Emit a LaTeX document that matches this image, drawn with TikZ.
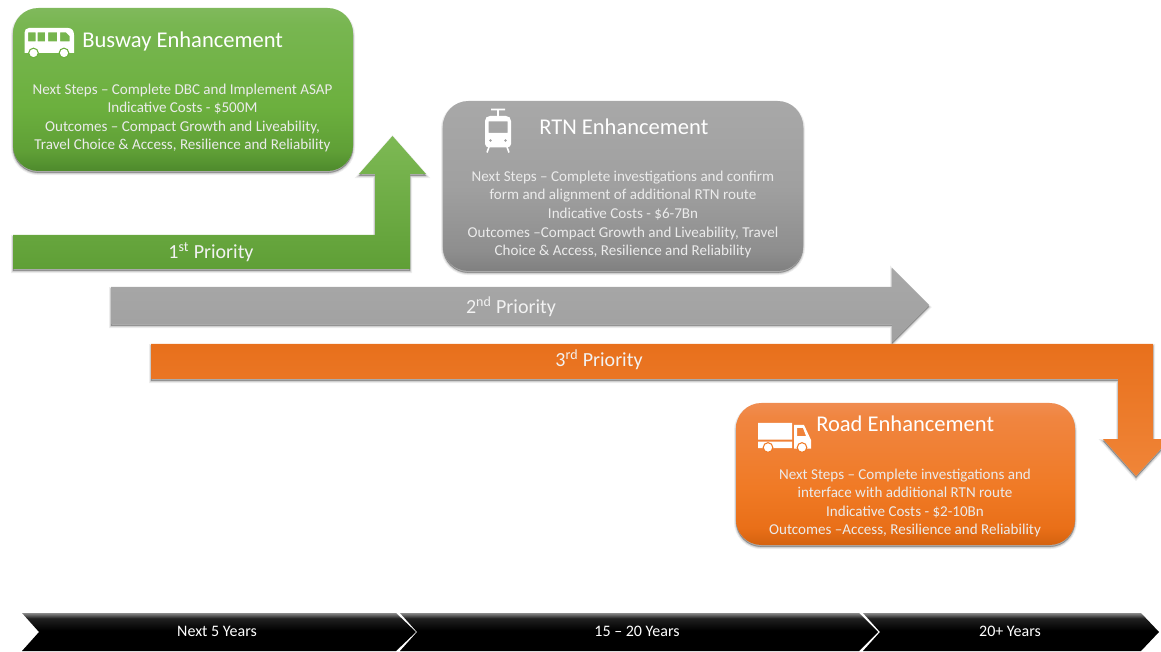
\documentclass[tikz,border=0pt]{standalone}
\usepackage{fontspec}
\setmainfont{Carlito}
\definecolor{HB}{HTML}{4E8A2C}\definecolor{HC}{HTML}{5F9F36}\definecolor{HD}{HTML}{6CB03E}\definecolor{HE}{HTML}{78B651}\definecolor{HF}{HTML}{80B95C}
\pgfdeclareverticalshading{cardG}{100bp}{color(0bp)=(HB);color(25bp)=(HB);color(31bp)=(HC);color(45bp)=(HD);color(70bp)=(HE);color(75bp)=(HF);color(100bp)=(HF)}
\definecolor{YB}{HTML}{808080}\definecolor{YC}{HTML}{8E8E8E}\definecolor{YD}{HTML}{A0A0A0}\definecolor{YF}{HTML}{A8A8A8}
\pgfdeclareverticalshading{cardY}{100bp}{color(0bp)=(YB);color(25bp)=(YB);color(31bp)=(YC);color(50bp)=(YD);color(75bp)=(YF);color(100bp)=(YF)}
\definecolor{OB}{HTML}{D4620F}\definecolor{OC}{HTML}{E96F18}\definecolor{OD}{HTML}{F07A25}\definecolor{OE}{HTML}{F08540}\definecolor{OF}{HTML}{F08C50}
\pgfdeclareverticalshading{cardO}{100bp}{color(0bp)=(OB);color(25bp)=(OB);color(31bp)=(OC);color(45bp)=(OD);color(70bp)=(OE);color(75bp)=(OF);color(100bp)=(OF)}
\definecolor{KM}{HTML}{202020}\definecolor{KT}{HTML}{8A8A8A}
\pgfdeclareverticalshading{chevK}{100bp}{color(0bp)=(black);color(52bp)=(black);color(68bp)=(KM);color(75bp)=(KT);color(100bp)=(KT)}
\definecolor{aT}{HTML}{7DB954}\definecolor{aB}{HTML}{5F9F36}
\definecolor{yT}{HTML}{A8A8A8}\definecolor{yB}{HTML}{A0A0A0}
\definecolor{oT}{HTML}{E8701C}\definecolor{oB}{HTML}{F08538}
\tikzset{
 x=0.75pt,y=-0.75pt,
 softshadow/.style={
  preaction={draw=black,fill=black,opacity=.07,line width=3pt,transform canvas={yshift=-1.6pt}},
  preaction={draw=black,fill=black,opacity=.10,line width=1.5pt,transform canvas={yshift=-1.6pt}},
  preaction={draw=black,fill=black,opacity=.14,line width=.4pt,transform canvas={yshift=-1.2pt}}},
 card/.style={rounded corners=19pt,minimum width=#1*0.75pt,inner sep=0pt,outer sep=0pt,softshadow},
 title/.style={text=white,font=\fontsize{16.9pt}{20pt}\selectfont,anchor=west,inner sep=0pt},
 body/.style={text=white!92!black,font=\fontsize{11.3pt}{13.9pt}\selectfont,align=center,inner sep=0pt},
 prio/.style={text=white!95!black,font=\fontsize{15pt}{17pt}\selectfont,inner sep=0pt},
 flowarrow/.style={softshadow},
 chev/.style={shading=chevK},
 years/.style={text=white,font=\fontsize{12pt}{13pt}\selectfont,inner sep=0pt},
 icon/.style={fill=white,draw=none,even odd rule},
}
\begin{document}
\begin{tikzpicture}
\useasboundingbox (0,0) rectangle (1161,652);
\begin{scope}
\clip (0,0) rectangle (1161,652);
% arrows
\path[flowarrow,top color=aT,bottom color=aB]
 (13,235) -- (375,235) -- (375,174) -- (359,174) -- (392.5,136) -- (426,174) -- (410,174) -- (410,269) -- (13,269) -- cycle;
\path[flowarrow,top color=yT,bottom color=yB]
 (111,287) -- (892,287) -- (892,268) -- (929,305) -- (892,342) -- (892,324) -- (111,324) -- cycle;
\path[flowarrow,top color=oT,bottom color=oB]
 (151,344) -- (1153,344) -- (1153,439) -- (1170,439) -- (1136,476) -- (1103,439) -- (1118,439) -- (1118,379) -- (151,379) -- cycle;
% chevrons
\path[chev] (22,613) -- (396,613) -- (416,632) -- (396,651) -- (22,651) -- (39,632) -- cycle;
\path[chev] (400,613) -- (859,613) -- (878,632) -- (859,651) -- (400,651) -- (417,632) -- cycle;
\path[chev] (863,613) -- (1141,613) -- (1159,632) -- (1141,651) -- (863,651) -- (880,632) -- cycle;
\end{scope}
% cards
\node[card=340,shading=cardG,minimum height=163*0.75pt] (bus) at (183,89.5) {};
\node[card=360,shading=cardY,minimum height=170*0.75pt] (rtn) at (623,186) {};
\node[card=339,shading=cardO,minimum height=142*0.75pt] (road) at (905.5,474) {};
% bus icon
\path[icon] (29,28) -- (68,28) .. controls (72,28) and (74,31) .. (74,35) -- (74,53) -- (24.5,53) -- (24.5,33) .. controls (24.5,30) and (26,28) .. (29,28) -- cycle
 (28,32.5) rectangle (35.5,41.5) (37.5,32.5) rectangle (45,41.5) (48,32.5) rectangle (57,41.5)
 (60,32.5) -- (66,32.5) -- (69.5,36) -- (69.5,41.5) -- (60,41.5) -- cycle;
\path[fill=white,draw=HD,line width=.8pt] (33.5,53) circle (4.8) (64,53) circle (4.8);
% tram icon
\path[icon] (490,116) -- (506,116) .. controls (509,116) and (511,118) .. (511,121) -- (511,144) .. controls (511,146) and (509,147.5) .. (507,147.5) -- (489,147.5) .. controls (487,147.5) and (485,146) .. (485,144) -- (485,121) .. controls (485,118) and (487,116) .. (490,116) -- cycle
 (488.5,121.5) rectangle (507.5,133);
\path[fill=YD] (490.5,140.5) circle (1.3) (505.5,140.5) circle (1.3);
\path[draw=white,line width=1.2pt] (491,109.5) -- (505,109.5) (498,109.5) -- (498,116) (489,147) -- (487,152.5) (507,147) -- (509,152.5);
% truck icon
\path[fill=white] (758,423) rectangle (792,439.5) (758,441.5) rectangle (792,448);
\path[icon] (794,425) -- (804,425) -- (811,440) -- (811,448.5) -- (794,448.5) -- cycle (797,428) -- (803,428) -- (806,436) -- (797,436) -- cycle;
\path[fill=white,draw=OD,line width=.8pt] (768,447.5) circle (4.8) (802,447.5) circle (4.8);
% titles
\node[title] (busT) at (82,41) {Busway Enhancement};
\node[title] (rtnT) at (539,127) {RTN Enhancement};
\node[title] (roadT) at (816,424) {Road Enhancement};
% bodies
\node[body] (busB) at (182.5,118) {Next Steps – Complete DBC and Implement ASAP\\Indicative Costs - \$500M\\Outcomes – Compact Growth and Liveability,\\Travel Choice \& Access, Resilience and Reliability};
\node[body] (rtnB) at (623,214.5) {Next Steps – Complete investigations and confirm\\form and alignment of additional RTN route\\Indicative Costs - \$6-7Bn\\Outcomes –Compact Growth and Liveability, Travel\\Choice \& Access, Resilience and Reliability};
\node[body] (roadB) at (905,503) {Next Steps – Complete investigations and\\interface with additional RTN route\\Indicative Costs - \$2-10Bn\\Outcomes –Access, Resilience and Reliability};
% priority labels
\node[prio] (p1) at (211,252.5) {1\textsuperscript{st} Priority};
\node[prio] (p2) at (511,306.5) {2\textsuperscript{nd} Priority};
\node[prio] (p3) at (599,359.5) {3\textsuperscript{rd} Priority};
% year labels
\node[years] (y1) at (217,631.5) {Next 5 Years};
\node[years] (y2) at (637,631.5) {15 – 20 Years};
\node[years] (y3) at (1010,631.5) {20+ Years};
\end{tikzpicture}
\end{document}
